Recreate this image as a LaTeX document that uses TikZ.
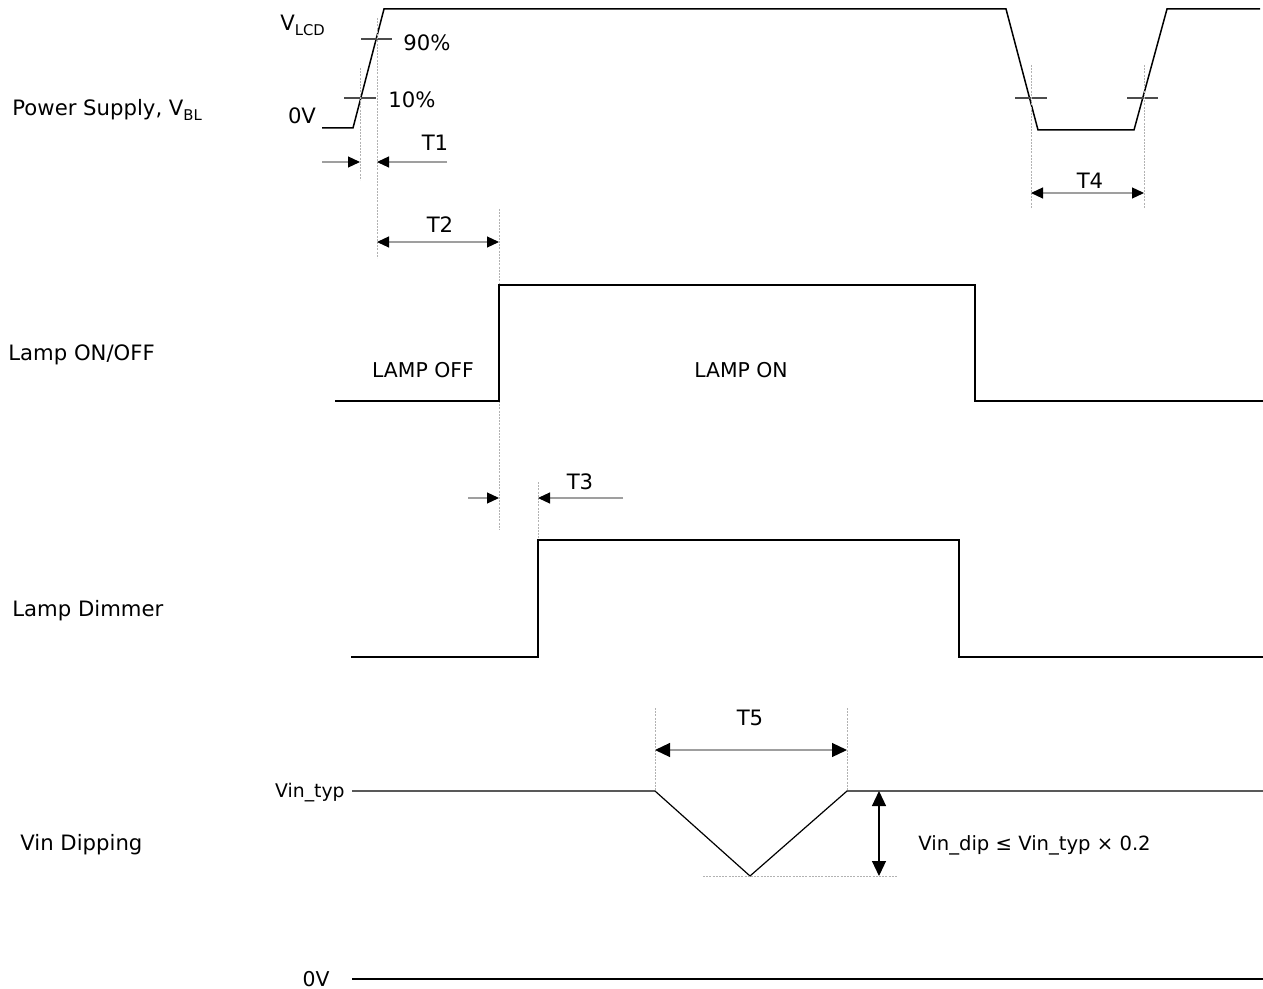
\documentclass[tikz,border=0pt]{standalone}
\usepackage{fontspec}
\setmainfont{DejaVu Sans}
\usetikzlibrary{arrows.meta}
\begin{document}
\begin{tikzpicture}[x=0.5pt,y=-0.5pt,
 sig/.style={black, line width=0.75pt},
 guide/.style={gray!60, line width=0.5pt, dash pattern=on 1pt off 0.6pt},
 tickm/.style={black!70, line width=0.6pt},
 dim/.style={gray!75, line width=0.6pt},
 tipa/.style={-{Triangle[black,length=6pt,width=5.5pt]}},
 tipb/.style={{Triangle[black,length=6pt,width=5.5pt]}-{Triangle[black,length=6pt,width=5.5pt]}},
 tipc/.style={{Triangle[black,length=7.5pt,width=7pt]}-{Triangle[black,length=7.5pt,width=7pt]}},
 lbl/.style={font=\fontsize{10.6}{12}\selectfont, inner sep=0pt},
 mid/.style={font=\fontsize{10.2}{12}\selectfont, inner sep=0pt},
 narrow/.style={font=\fontsize{9.8}{12}\selectfont, inner sep=0pt},
]
\useasboundingbox (0,0) rectangle (1263,989);
\newcommand{\subtxt}[1]{\raisebox{-0.45ex}{\fontsize{7.4}{8}\selectfont #1}}
% side labels
\node[lbl, anchor=west] (lps) at (12,110) {Power Supply, V\subtxt{BL}};
\node[lbl, anchor=west] (llamp) at (8,355) {Lamp ON/OFF};
\node[lbl, anchor=west] (ldim) at (12,611) {Lamp Dimmer};
\node[lbl, anchor=west] (lvin) at (20,845) {Vin Dipping};
% power supply waveform
\coordinate (p0) at (322,128); \coordinate (p1) at (353,128); \coordinate (p2) at (384,9);
\coordinate (p3) at (1006,9); \coordinate (p4) at (1038,130); \coordinate (p5) at (1134,130);
\coordinate (p6) at (1167,9); \coordinate (p7) at (1260,9);
\draw[sig] (p0) -- (p1) -- (p2) -- (p3) -- (p4) -- (p5) -- (p6) -- (p7);
\node[lbl, anchor=west] (vlcd) at (280,25) {V\subtxt{LCD}};
\node[lbl, anchor=west] (n90) at (403,43) {90\%};
\node[lbl, anchor=west] (n10) at (388,100) {10\%};
\node[lbl] (n0v) at (302,116) {0V};
% ticks
\draw[tickm] (344,98) -- (376,98);
\draw[tickm] (361,39) -- (392,39);
\draw[tickm] (1015,98) -- (1047,98);
\draw[tickm] (1127,98) -- (1158,98);
% guides
\coordinate (g1a) at (360,68); \coordinate (g1b) at (360,180);
\coordinate (g2a) at (377,18); \coordinate (g2b) at (377,258);
\coordinate (g3a) at (499,209); \coordinate (g3b) at (499,530);
\coordinate (g4a) at (538,482); \coordinate (g4b) at (538,540);
\coordinate (g5a) at (1031,65); \coordinate (g5b) at (1031,208);
\coordinate (g6a) at (1144,65); \coordinate (g6b) at (1144,208);
\coordinate (g7a) at (655,708); \coordinate (g7b) at (655,791);
\coordinate (g8a) at (847,708); \coordinate (g8b) at (847,791);
\foreach \a/\b in {g1a/g1b,g2a/g2b,g3a/g3b,g4a/g4b,g5a/g5b,g6a/g6b,g7a/g7b,g8a/g8b}
  \draw[guide] (\a) -- (\b);
% T1
\coordinate (t1l) at (322,162); \coordinate (t1a) at (360,162);
\coordinate (t1r) at (447,162); \coordinate (t1b) at (377,162);
\draw[dim,tipa] (t1l) -- (t1a);
\draw[dim,tipa] (t1r) -- (t1b);
\node[lbl] (lt1) at (435,143) {T1};
% T2
\coordinate (t2a) at (377,242); \coordinate (t2b) at (499,242);
\draw[dim,tipb] (t2a) -- (t2b);
\node[lbl] (lt2) at (440,225) {T2};
% Lamp on/off
\coordinate (l0) at (335,401); \coordinate (l1) at (499,401); \coordinate (l2) at (499,285);
\coordinate (l3) at (975,285); \coordinate (l4) at (975,401); \coordinate (l5) at (1263,401);
\draw[sig] (l0) -- (l1) -- (l2) -- (l3) -- (l4) -- (l5);
\node[mid] (loff) at (423,370) {LAMP OFF};
\node[mid] (lon) at (741,370) {LAMP ON};
% T3
\coordinate (t3l) at (468,498); \coordinate (t3a) at (499,498);
\coordinate (t3r) at (623,498); \coordinate (t3b) at (538,498);
\draw[dim,tipa] (t3l) -- (t3a);
\draw[dim,tipa] (t3r) -- (t3b);
\node[lbl] (lt3) at (580,482) {T3};
% Lamp dimmer
\coordinate (d0) at (351,657); \coordinate (d1) at (538,657); \coordinate (d2) at (538,540);
\coordinate (d3) at (959,540); \coordinate (d4) at (959,657); \coordinate (d5) at (1263,657);
\draw[sig] (d0) -- (d1) -- (d2) -- (d3) -- (d4) -- (d5);
% T4
\coordinate (t4a) at (1031,193); \coordinate (t4b) at (1144,193);
\draw[dim,tipb] (t4a) -- (t4b);
\node[lbl] (lt4) at (1090,181) {T4};
% Vin dipping
\coordinate (v0) at (352,791); \coordinate (v1) at (655,791); \coordinate (v2) at (750,876);
\coordinate (v3) at (847,791); \coordinate (v4) at (1263,791);
\draw[black, line width=0.6pt] (v0) -- (v1) -- (v2) -- (v3) -- (v4);
\node[narrow, anchor=east, font=\fontsize{9.4}{12}\selectfont] (lvt) at (345,793) {Vin\_typ};
\coordinate (b0) at (703,876); \coordinate (b1) at (898,876);
\draw[guide] (b0) -- (b1);
\coordinate (t5a) at (655,750); \coordinate (t5b) at (847,750);
\draw[dim,tipc] (t5a) -- (t5b);
\node[lbl] (lt5) at (750,718) {T5};
\coordinate (da) at (879,791); \coordinate (db) at (879,876);
\draw[black, line width=0.6pt,tipc] (da) -- (db);
\node[narrow, anchor=west] (ldip) at (918,845) {Vin\_dip ≤ Vin\_typ × 0.2};
% 0V
\node[mid] (lz) at (316,979) {0V};
\coordinate (z0) at (352,979); \coordinate (z1) at (1263,979);
\draw[black, line width=0.6pt] (z0) -- (z1);
\end{tikzpicture}
\end{document}
